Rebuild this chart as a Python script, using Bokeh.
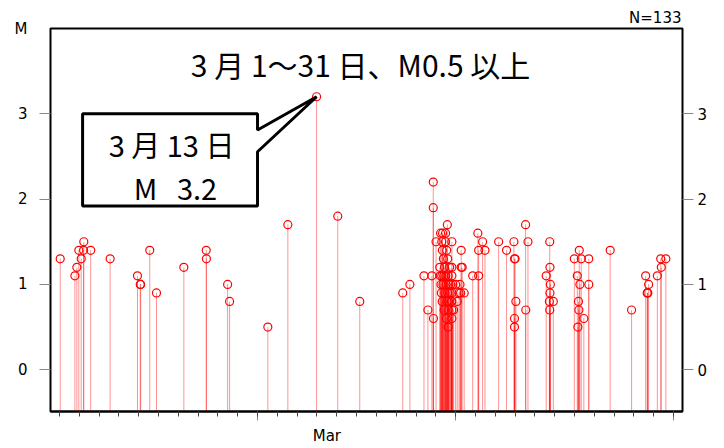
from bokeh.plotting import figure
from bokeh.models import Range1d, LinearAxis, FixedTicker, Label, PolyAnnotation, ColumnDataSource, Title
from bokeh.embed import file_html
from bokeh.resources import INLINE

# ---- data: time of event (day of March, fractional) and magnitude ----
day = [
    1.04, 1.78, 1.88, 1.98, 2.10, 2.22, 2.23, 2.58, 3.56, 4.94,
    5.08, 5.10, 5.56, 5.90, 7.28, 8.41, 8.42, 9.49, 9.59, 11.52,
    12.53, 13.98, 15.05, 16.16, 18.33, 18.69, 19.40, 19.60, 19.80, 19.87,
    19.87, 19.88, 20.01, 20.24, 20.34, 20.49, 20.58, 20.20, 20.30, 20.33,
    20.38, 20.49, 20.55, 20.60, 20.22, 20.30, 20.40, 20.50, 20.62, 20.60,
    20.64, 20.62, 20.62, 20.81, 20.81, 20.81, 20.81, 20.81, 20.81, 20.81,
    21.08, 21.25, 21.28, 21.28, 21.33, 21.43, 21.17, 21.86, 22.12, 22.16,
    22.16, 22.36, 22.48, 23.17, 23.57, 23.94, 23.97, 24.00, 24.04, 23.97,
    23.97, 24.53, 24.65, 24.54, 25.57, 25.75, 25.76, 25.76, 25.73, 25.93,
    25.75, 26.99, 27.24, 27.34, 27.14, 27.27, 27.17, 27.47, 27.72, 27.72,
    28.80, 29.88, 30.59, 30.74, 30.67, 30.68, 31.18, 31.35, 31.38, 31.61,
    20.26, 20.28, 20.32, 20.36, 20.42, 20.44, 20.46, 20.52, 20.53, 20.56,
    20.66, 20.70, 20.72, 20.75, 20.78, 20.86, 20.90, 21.00, 21.22, 25.78,
    27.20, 27.22, 30.70,
]
mag = [
    1.3, 1.1, 1.2, 1.4, 1.3, 1.4, 1.5, 1.4, 1.3, 1.1,
    1.0, 1.0, 1.4, 0.9, 1.2, 1.4, 1.3, 1.0, 0.8, 0.5,
    1.7, 3.2, 1.8, 0.8, 0.9, 1.0, 1.1, 0.7, 1.1, 2.2,
    1.9, 0.6, 1.5, 1.6, 1.6, 1.6, 1.7, 1.2, 1.5, 1.4,
    1.3, 1.5, 1.4, 1.3, 1.1, 1.1, 1.1, 1.1, 1.1, 0.9,
    0.8, 0.7, 0.5, 1.5, 1.2, 1.1, 0.9, 0.8, 0.7, 0.6,
    0.8, 0.9, 1.4, 1.2, 1.2, 0.9, 0.9, 1.1, 1.6, 1.4,
    1.1, 1.5, 1.4, 1.5, 1.4, 1.5, 1.3, 1.3, 0.8, 0.6,
    0.5, 1.7, 1.5, 0.7, 1.1, 1.5, 1.2, 0.9, 0.8, 0.8,
    0.7, 1.3, 1.4, 1.3, 1.1, 1.0, 0.5, 0.6, 1.3, 1.0,
    1.4, 0.7, 1.1, 1.0, 0.9, 0.9, 1.1, 1.3, 1.2, 1.3,
    1.0, 0.9, 0.8, 1.0, 0.7, 1.2, 0.9, 1.0, 0.6, 0.8,
    1.0, 1.2, 0.9, 1.0, 0.8, 1.0, 0.7, 1.0, 1.0, 1.0,
    0.8, 0.7, 0.9,
]
y_ticks = [0, 1, 2, 3]
y_unit_pos = 4.0
x_major_ticks = [11, 21, 32]
x_minor_ticks = list(range(1, 33))
month_pos = 14.5
month_label = "Mar"
title_text = "3 月 1～31 日、M0.5 以上"
callout_line1 = "3 月 13 日"
callout_line2 = "M\u00a0\u00a0\u00a03.2"

FONT = "Noto Sans CJK JP"
LATIN = "DejaVu Sans"
Y0 = -0.49

p = figure(width=724, height=448, output_backend="svg", toolbar_location=None,
           x_range=Range1d(0.55, 32.45), y_range=Range1d(Y0, 4.0),
           x_axis_type=None, y_axis_type=None,
           min_border_left=50, min_border_right=42, min_border_top=28, min_border_bottom=37)
p.outline_line_color = "black"
p.outline_line_width = 2
p.background_fill_color = "white"
p.border_fill_color = "white"

src = ColumnDataSource(dict(day=day, mag=mag, base=[Y0] * len(day)))
p.segment(x0="day", y0="base", x1="day", y1="mag", source=src,
          line_color="#ff0000", line_alpha=0.85, line_width=1, line_dash="1 1")
p.scatter(x="day", y="mag", source=src, marker="circle", size=8,
          fill_color=None, line_color="#ff0000", line_width=1.2)

# bottom axis: ticks
xaxis = LinearAxis(ticker=FixedTicker(ticks=x_major_ticks, minor_ticks=x_minor_ticks),
                   major_tick_in=0, major_tick_out=9, minor_tick_in=0, minor_tick_out=5,
                   major_label_overrides={t: "" for t in x_major_ticks},
                   major_label_standoff=0,
                   axis_line_color="black", axis_line_width=2,
                   major_tick_line_color="#888888", minor_tick_line_color="#444444")
p.add_layout(xaxis, "below")
# bottom axis: month label
maxis = LinearAxis(ticker=FixedTicker(ticks=[month_pos], minor_ticks=[]),
                   major_tick_line_color=None, minor_tick_line_color=None, axis_line_color=None,
                   major_label_overrides={month_pos: month_label}, major_label_standoff=0,
                   major_label_text_font=LATIN, major_label_text_font_size="15px",
                   major_label_text_color="black")
p.add_layout(maxis, "below")

# left: tick marks, then labels (incl. unit "M")
ltick = LinearAxis(ticker=FixedTicker(ticks=y_ticks, minor_ticks=[]),
                   major_tick_in=0, major_tick_out=11, minor_tick_out=0,
                   axis_line_color=None, major_tick_line_color="#888888",
                   major_label_overrides={t: "" for t in y_ticks}, major_label_standoff=0)
p.add_layout(ltick, "left")
lab = {t: str(t) for t in y_ticks}
lab[y_unit_pos] = "M"
llab = LinearAxis(ticker=FixedTicker(ticks=y_ticks + [y_unit_pos], minor_ticks=[]),
                  major_tick_line_color=None, minor_tick_line_color=None, axis_line_color=None,
                  major_label_overrides=lab, major_label_standoff=6,
                  major_label_text_font=LATIN, major_label_text_font_size="15px",
                  major_label_text_color="black")
p.add_layout(llab, "left")

rax = LinearAxis(ticker=FixedTicker(ticks=y_ticks, minor_ticks=[]),
                 major_tick_in=0, major_tick_out=11, minor_tick_out=0,
                 axis_line_color=None, major_tick_line_color="#888888",
                 major_label_text_font=LATIN, major_label_text_font_size="15px",
                 major_label_text_color="black", major_label_standoff=4)
p.add_layout(rax, "right")

# count in the top-right corner
p.add_layout(Title(text=f"N={len(mag)}", align="right", text_font=LATIN,
                   text_font_size="15px", text_font_style="normal", text_color="black",
                   standoff=4, offset=1), "above")

p.add_layout(Label(x=16.2, y=3.586, text=title_text, text_align="center",
                   text_baseline="middle", text_font=FONT, text_font_size="30px",
                   text_color="black"))

# callout pointing to the largest event
imax = max(range(len(mag)), key=lambda i: mag[i])
tip_x, tip_y = day[imax], mag[imax]
bx0, bx1, by0, by1 = 2.17, 11.0, 1.92, 3.0
p.add_layout(PolyAnnotation(xs=[bx0, bx1, bx1, tip_x, bx1, bx1, bx0],
                            ys=[by1, by1, 2.81, tip_y, 2.555, by0, by0],
                            fill_color="white", fill_alpha=1.0,
                            line_color="black", line_alpha=1.0, line_width=3))
p.add_layout(Label(x=6.66, y=2.649, text=callout_line1, text_align="center",
                   text_baseline="middle", text_font=FONT, text_font_size="29px",
                   text_color="black"))
p.add_layout(Label(x=6.86, y=2.145, text=callout_line2, text_align="center",
                   text_baseline="middle", text_font=FONT, text_font_size="29px",
                   text_color="black"))

open("out.html", "w").write(file_html(p, INLINE))
